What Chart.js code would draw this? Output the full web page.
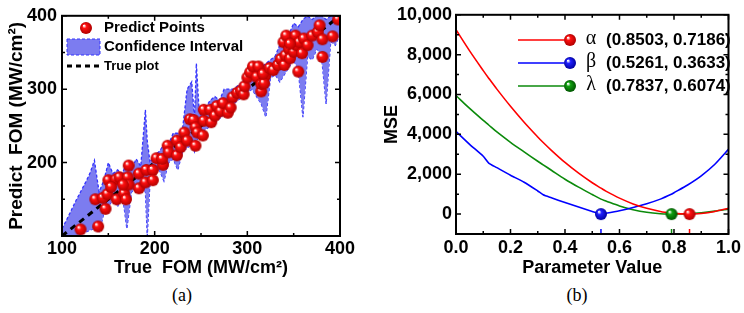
<!DOCTYPE html>
<html>
<head>
<meta charset="utf-8">
<script src="https://cdn.jsdelivr.net/npm/chart.js@4.4.0/dist/chart.umd.min.js"></script>
<style>
  body { margin: 0; background: #fff; }
  #wrap { position: relative; width: 744px; height: 313px; overflow: hidden; }
  .panel { position: absolute; top: 0; width: 372px; height: 280px; }
  .cap { position: absolute; top: 285px; width: 40px; text-align: center;
         font: 18px "Liberation Serif", "DejaVu Serif", serif; color: #000; }
</style>
</head>
<body>
<div id="wrap">
  <div class="panel" style="left:0"><canvas id="chartA"></canvas></div>
  <div class="panel" style="left:372px"><canvas id="chartB"></canvas></div>
  <div class="cap" style="left:162px">(a)</div>
  <div class="cap" style="left:557px">(b)</div>
</div>
<script>
// ---- panel (a) data ----
const trueFom = [120, 139, 136, 147, 144, 149, 150, 158, 162, 153, 159, 167, 169, 171, 172, 172, 166,
  183, 183, 190, 191, 198, 198, 202, 209, 208, 214, 215, 224, 224, 228, 232, 235, 238, 242, 244, 244,
  246, 252, 253, 253, 260, 261, 265, 267, 271, 274, 279, 284, 282, 289, 293, 296, 297, 300, 303, 306,
  310, 312, 315, 315, 319, 318, 317, 324, 328, 333, 336, 340, 341, 339, 342, 345, 346, 355, 350, 352,
  353, 356, 359, 361, 365, 370, 376, 378, 381, 381, 392, 398, 346];
const predictFom = [109, 113, 150, 137, 152, 157, 176, 177, 180, 167, 150, 158, 150, 180, 196, 170, 170,
  185, 165, 173, 190, 190, 176, 206, 197, 205, 223, 214, 210, 230, 221, 241, 230, 259, 258, 223, 248,
  241, 237, 272, 257, 272, 255, 264, 277, 270, 281, 268, 289, 275, 295, 298, 293, 304, 316, 323, 331,
  317, 331, 297, 307, 318, 308, 321, 329, 326, 333, 341, 333, 346, 364, 373, 355, 342, 324, 351, 373,
  360, 364, 349, 369, 360, 373, 378, 387, 368, 344, 372, 395, 362];

const ciX = [100, 105, 110, 115, 120, 125, 130, 135, 140, 145, 150, 155, 160, 165, 170, 175, 180, 185,
  190, 192, 195, 200, 205, 210, 215, 220, 225, 230, 235, 240, 243, 245, 248, 250, 255, 260, 265, 270,
  275, 280, 285, 290, 295, 300, 305, 310, 315, 320, 325, 330, 335, 340, 345, 350, 355, 360, 365, 370,
  375, 380, 385, 390, 395, 400];
const ciUpper = [110, 122, 135, 148, 160, 172, 185, 203, 160, 175, 200, 185, 190, 185, 200, 190, 205, 195,
  272, 230, 200, 210, 215, 225, 225, 240, 240, 245, 300, 310, 260, 335, 270, 265, 275, 285, 290, 285,
  300, 300, 300, 305, 310, 320, 325, 335, 330, 335, 340, 345, 360, 370, 375, 390, 385, 395, 400, 395,
  400, 400, 395, 400, 400, 400];
const ciLower = [100, 100, 100, 100, 102, 105, 108, 110, 105, 130, 140, 150, 140, 158, 110, 160, 165, 170,
  160, 100, 175, 185, 190, 175, 200, 205, 190, 215, 220, 225, 215, 230, 235, 240, 245, 250, 255, 260,
  265, 265, 280, 285, 290, 295, 300, 290, 280, 262, 315, 320, 310, 320, 330, 340, 325, 262, 345, 340,
  355, 345, 280, 365, 360, 375];

const truePlotX = [100, 400];
const truePlotY = [100, 400];

const xTicksA = [100, 200, 300, 400];
const yTickLabelsA = [200, 300, 400];
const yTicksA = [100, 200, 300, 400];
const minorTicksA = [150, 250, 350];

// ---- panel (b) data ----
const paramX = [0, 0.05, 0.1, 0.12, 0.15, 0.2, 0.25, 0.3, 0.32, 0.35, 0.4, 0.45, 0.5, 0.532, 0.55, 0.6,
  0.65, 0.7, 0.75, 0.79, 0.8, 0.85, 0.9, 0.95, 1.0];
const mseAlpha = [9250, 8190, 7200, 6820, 6270, 5410, 4610, 3870, 3590, 3200, 2590, 2050, 1570, 1300, 1150,
  800, 510, 290, 130, 40, 30, 0, 30, 130, 290];
const mseBeta = [4150, 3500, 2900, 2560, 2330, 1950, 1600, 1160, 970, 820, 580, 350, 130, 0, 40, 170,
  330, 520, 750, 990, 1070, 1460, 1920, 2500, 3250];
const mseLambda = [5950, 5300, 4700, 4470, 4120, 3600, 3120, 2650, 2470, 2200, 1750, 1350, 980, 750, 660,
  410, 220, 90, 20, 0, 2, 20, 70, 150, 250];

const seriesNames = ['α', 'β', 'λ'];
const optimaText = ['(0.8503, 0.7186)', '(0.5261, 0.3633)', '(0.7837, 0.6074)'];
const optimaX = [0.857, 0.532, 0.791];
const optimaY = [0, 0, 0];

const xTicksB = [0, 0.2, 0.4, 0.6, 0.8, 1.0];
const xMinorB = [0.1, 0.3, 0.5, 0.7, 0.9];
const yTicksB = [0, 2000, 4000, 6000, 8000, 10000];
const yMinorB = [1000, 3000, 5000, 7000, 9000];

const FONT = '"Liberation Sans", Arial, sans-serif';
const RED = '#ff0000', BLUE = '#0000ff', GREEN = '#0b8a0b';
const CI_FILL = '#7c7cf0', CI_LINE = '#3434ff';

function sphere(color, dark, r) {
  const c = document.createElement('canvas');
  c.width = c.height = 2 * r + 2;
  const g = c.getContext('2d');
  const cx = r + 1, cy = r + 1;
  const grad = g.createRadialGradient(cx - r * 0.35, cy - r * 0.4, r * 0.08, cx, cy, r);
  grad.addColorStop(0, '#ffffff');
  grad.addColorStop(0.3, color);
  grad.addColorStop(1, dark);
  g.fillStyle = grad;
  g.beginPath(); g.arc(cx, cy, r, 0, Math.PI * 2); g.fill();
  return c;
}
const redBall = sphere('#ff1010', '#b00000', 6);
const blueBall = sphere('#2020ff', '#0000a0', 6);
const greenBall = sphere('#10a010', '#005500', 6);

// inward ticks on all four sides + frame
const frameTicks = {
  id: 'frameTicks',
  afterDraw(chart, args, o) {
    const { ctx, chartArea: a, scales } = chart;
    ctx.save();
    ctx.strokeStyle = '#000';
    ctx.lineWidth = 1.5;
    const tick = (list, len, horiz) => {
      list.forEach(v => {
        if (horiz) {
          const px = scales.x.getPixelForValue(v);
          ctx.beginPath();
          ctx.moveTo(px, a.bottom); ctx.lineTo(px, a.bottom - len);
          ctx.moveTo(px, a.top); ctx.lineTo(px, a.top + len);
          ctx.stroke();
        } else {
          const py = scales.y.getPixelForValue(v);
          ctx.beginPath();
          ctx.moveTo(a.left, py); ctx.lineTo(a.left + len, py);
          ctx.moveTo(a.right, py); ctx.lineTo(a.right - len, py);
          ctx.stroke();
        }
      });
    };
    tick(o.xMajor, 5, true); tick(o.xMinor, 3, true);
    tick(o.yMajor, 5, false); tick(o.yMinor, 3, false);
    ctx.lineWidth = 2;
    ctx.strokeRect(a.left, a.top, a.right - a.left, a.bottom - a.top);
    ctx.restore();
  }
};

const legendA = {
  id: 'legendA',
  afterDraw(chart) {
    const ctx = chart.ctx;
    ctx.save();
    ctx.drawImage(redBall, 86 - 7, 28 - 7);
    ctx.fillStyle = CI_FILL;
    ctx.fillRect(67, 39, 33, 16);
    ctx.setLineDash([3, 2]);
    ctx.strokeStyle = CI_LINE; ctx.lineWidth = 1;
    ctx.strokeRect(67, 39, 33, 16);
    ctx.setLineDash([5, 4]);
    ctx.strokeStyle = '#000'; ctx.lineWidth = 3;
    ctx.beginPath(); ctx.moveTo(67, 66); ctx.lineTo(100, 66); ctx.stroke();
    ctx.setLineDash([]);
    ctx.fillStyle = '#000';
    ctx.textBaseline = 'middle';
    ctx.font = 'bold 15px ' + FONT;
    ctx.fillText('Predict Points', 104, 28);
    ctx.fillText('Confidence Interval', 104, 47);
    ctx.font = 'bold 13px ' + FONT;
    ctx.fillText('True plot', 104, 66);
    ctx.restore();
  }
};

const legendB = {
  id: 'legendB',
  afterDraw(chart) {
    const ctx = chart.ctx;
    const cols = [RED, BLUE, GREEN];
    const balls = [redBall, blueBall, greenBall];
    const rows = [40, 63, 86];
    ctx.save();
    rows.forEach((y, i) => {
      ctx.strokeStyle = cols[i]; ctx.lineWidth = 1.6;
      ctx.beginPath(); ctx.moveTo(146, y); ctx.lineTo(192, y); ctx.stroke();
      ctx.drawImage(balls[i], 198 - 7, y - 7);
      ctx.fillStyle = '#000';
      ctx.textBaseline = 'middle';
      ctx.textAlign = 'center';
      ctx.font = '20px "Liberation Serif", serif';
      ctx.fillText(seriesNames[i], 219, y - 1);
      ctx.textAlign = 'left';
      ctx.font = 'bold 17px ' + FONT;
      ctx.fillText(optimaText[i], 234, y);
    });
    ctx.restore();
  }
};

const pts = (xs, ys) => xs.map((x, i) => ({ x, y: ys[i] }));
const tickFont = { family: FONT, size: 18, weight: 'bold' };

new Chart(document.getElementById('chartA'), {
  type: 'scatter',
  data: {
    datasets: [
      { data: pts(trueFom, predictFom), pointStyle: redBall, pointRadius: 6 },
      { data: pts(truePlotX, truePlotY), showLine: true, pointRadius: 0, borderColor: '#000',
        borderWidth: 3, borderDash: [6, 5] },
      { data: pts(ciX, ciUpper), showLine: true, pointRadius: 0, borderColor: CI_LINE,
        borderWidth: 1.3, borderDash: [3, 2], fill: '+1', backgroundColor: CI_FILL },
      { data: pts(ciX, ciLower), showLine: true, pointRadius: 0, borderColor: CI_LINE,
        borderWidth: 1.3, borderDash: [3, 2], fill: false }
    ]
  },
  options: {
    responsive: true,
    maintainAspectRatio: false,
    animation: false,
    layout: { padding: { left: 0, top: 13, right: 32, bottom: 0 } },
    plugins: {
      legend: { display: false },
      tooltip: { enabled: false },
      frameTicks: { xMajor: xTicksA, xMinor: minorTicksA, yMajor: yTicksA, yMinor: minorTicksA }
    },
    scales: {
      x: {
        min: 100, max: 400,
        afterBuildTicks: s => { s.ticks = xTicksA.map(v => ({ value: v })); },
        afterFit: s => { s.height = 44; },
        grid: { display: false, drawTicks: false },
        border: { display: false },
        ticks: { font: tickFont, color: '#000', padding: 2, maxRotation: 0 },
        title: { display: true, text: 'True  FOM (MW/cm²)', font: tickFont, color: '#000',
                 padding: { top: 0, bottom: 1 } }
      },
      y: {
        min: 100, max: 400,
        afterBuildTicks: s => { s.ticks = yTickLabelsA.map(v => ({ value: v })); },
        afterFit: s => { s.width = 62; },
        grid: { display: false, drawTicks: false },
        border: { display: false },
        ticks: { font: tickFont, color: '#000', padding: 5 },
        title: { display: true, text: 'Predict  FOM (MW/cm²)', color: '#000',
                 font: { family: FONT, size: 19, weight: 'bold' }, padding: { top: 5, bottom: 0 } }
      }
    }
  },
  plugins: [frameTicks, legendA]
});

new Chart(document.getElementById('chartB'), {
  type: 'scatter',
  data: {
    datasets: [
      { data: pts(optimaX, optimaY), pointStyle: [redBall, blueBall, greenBall], pointRadius: 6 },
      { data: pts(optimaX, optimaY.map(() => -1000)), pointStyle: 'line', rotation: 90, pointRadius: 5,
        borderColor: [RED, BLUE, GREEN], borderWidth: 1.5 },
      { data: pts(paramX, mseAlpha), showLine: true, pointRadius: 0, borderColor: RED, borderWidth: 1.6, tension: 0.3 },
      { data: pts(paramX, mseBeta), showLine: true, pointRadius: 0, borderColor: BLUE, borderWidth: 1.6, tension: 0.2 },
      { data: pts(paramX, mseLambda), showLine: true, pointRadius: 0, borderColor: GREEN, borderWidth: 1.6, tension: 0.3 }
    ]
  },
  options: {
    responsive: true,
    maintainAspectRatio: false,
    animation: false,
    layout: { padding: { left: 0, top: 14, right: 14, bottom: 0 } },
    plugins: {
      legend: { display: false },
      tooltip: { enabled: false },
      frameTicks: { xMajor: xTicksB, xMinor: xMinorB, yMajor: yTicksB, yMinor: yMinorB }
    },
    scales: {
      x: {
        min: 0, max: 1,
        afterBuildTicks: s => { s.ticks = xTicksB.map(v => ({ value: v })); },
        afterFit: s => { s.height = 46; },
        grid: { display: false, drawTicks: false },
        border: { display: false },
        ticks: { font: tickFont, color: '#000', padding: 3, maxRotation: 0,
                 callback: v => Number(v).toFixed(1) },
        title: { display: true, text: 'Parameter Value', font: tickFont, color: '#000',
                 padding: { top: 0, bottom: 1 } }
      },
      y: {
        min: -1000, max: 10000,
        afterBuildTicks: s => { s.ticks = yTicksB.map(v => ({ value: v })); },
        afterFit: s => { s.width = 84; },
        grid: { display: false, drawTicks: false },
        border: { display: false },
        ticks: { font: tickFont, color: '#000', padding: 4,
                 callback: v => Number(v).toLocaleString('en-US') },
        title: { display: true, text: 'MSE', font: tickFont, color: '#000',
                 padding: { top: 9, bottom: 0 } }
      }
    }
  },
  plugins: [frameTicks, legendB]
});
</script>
</body>
</html>
